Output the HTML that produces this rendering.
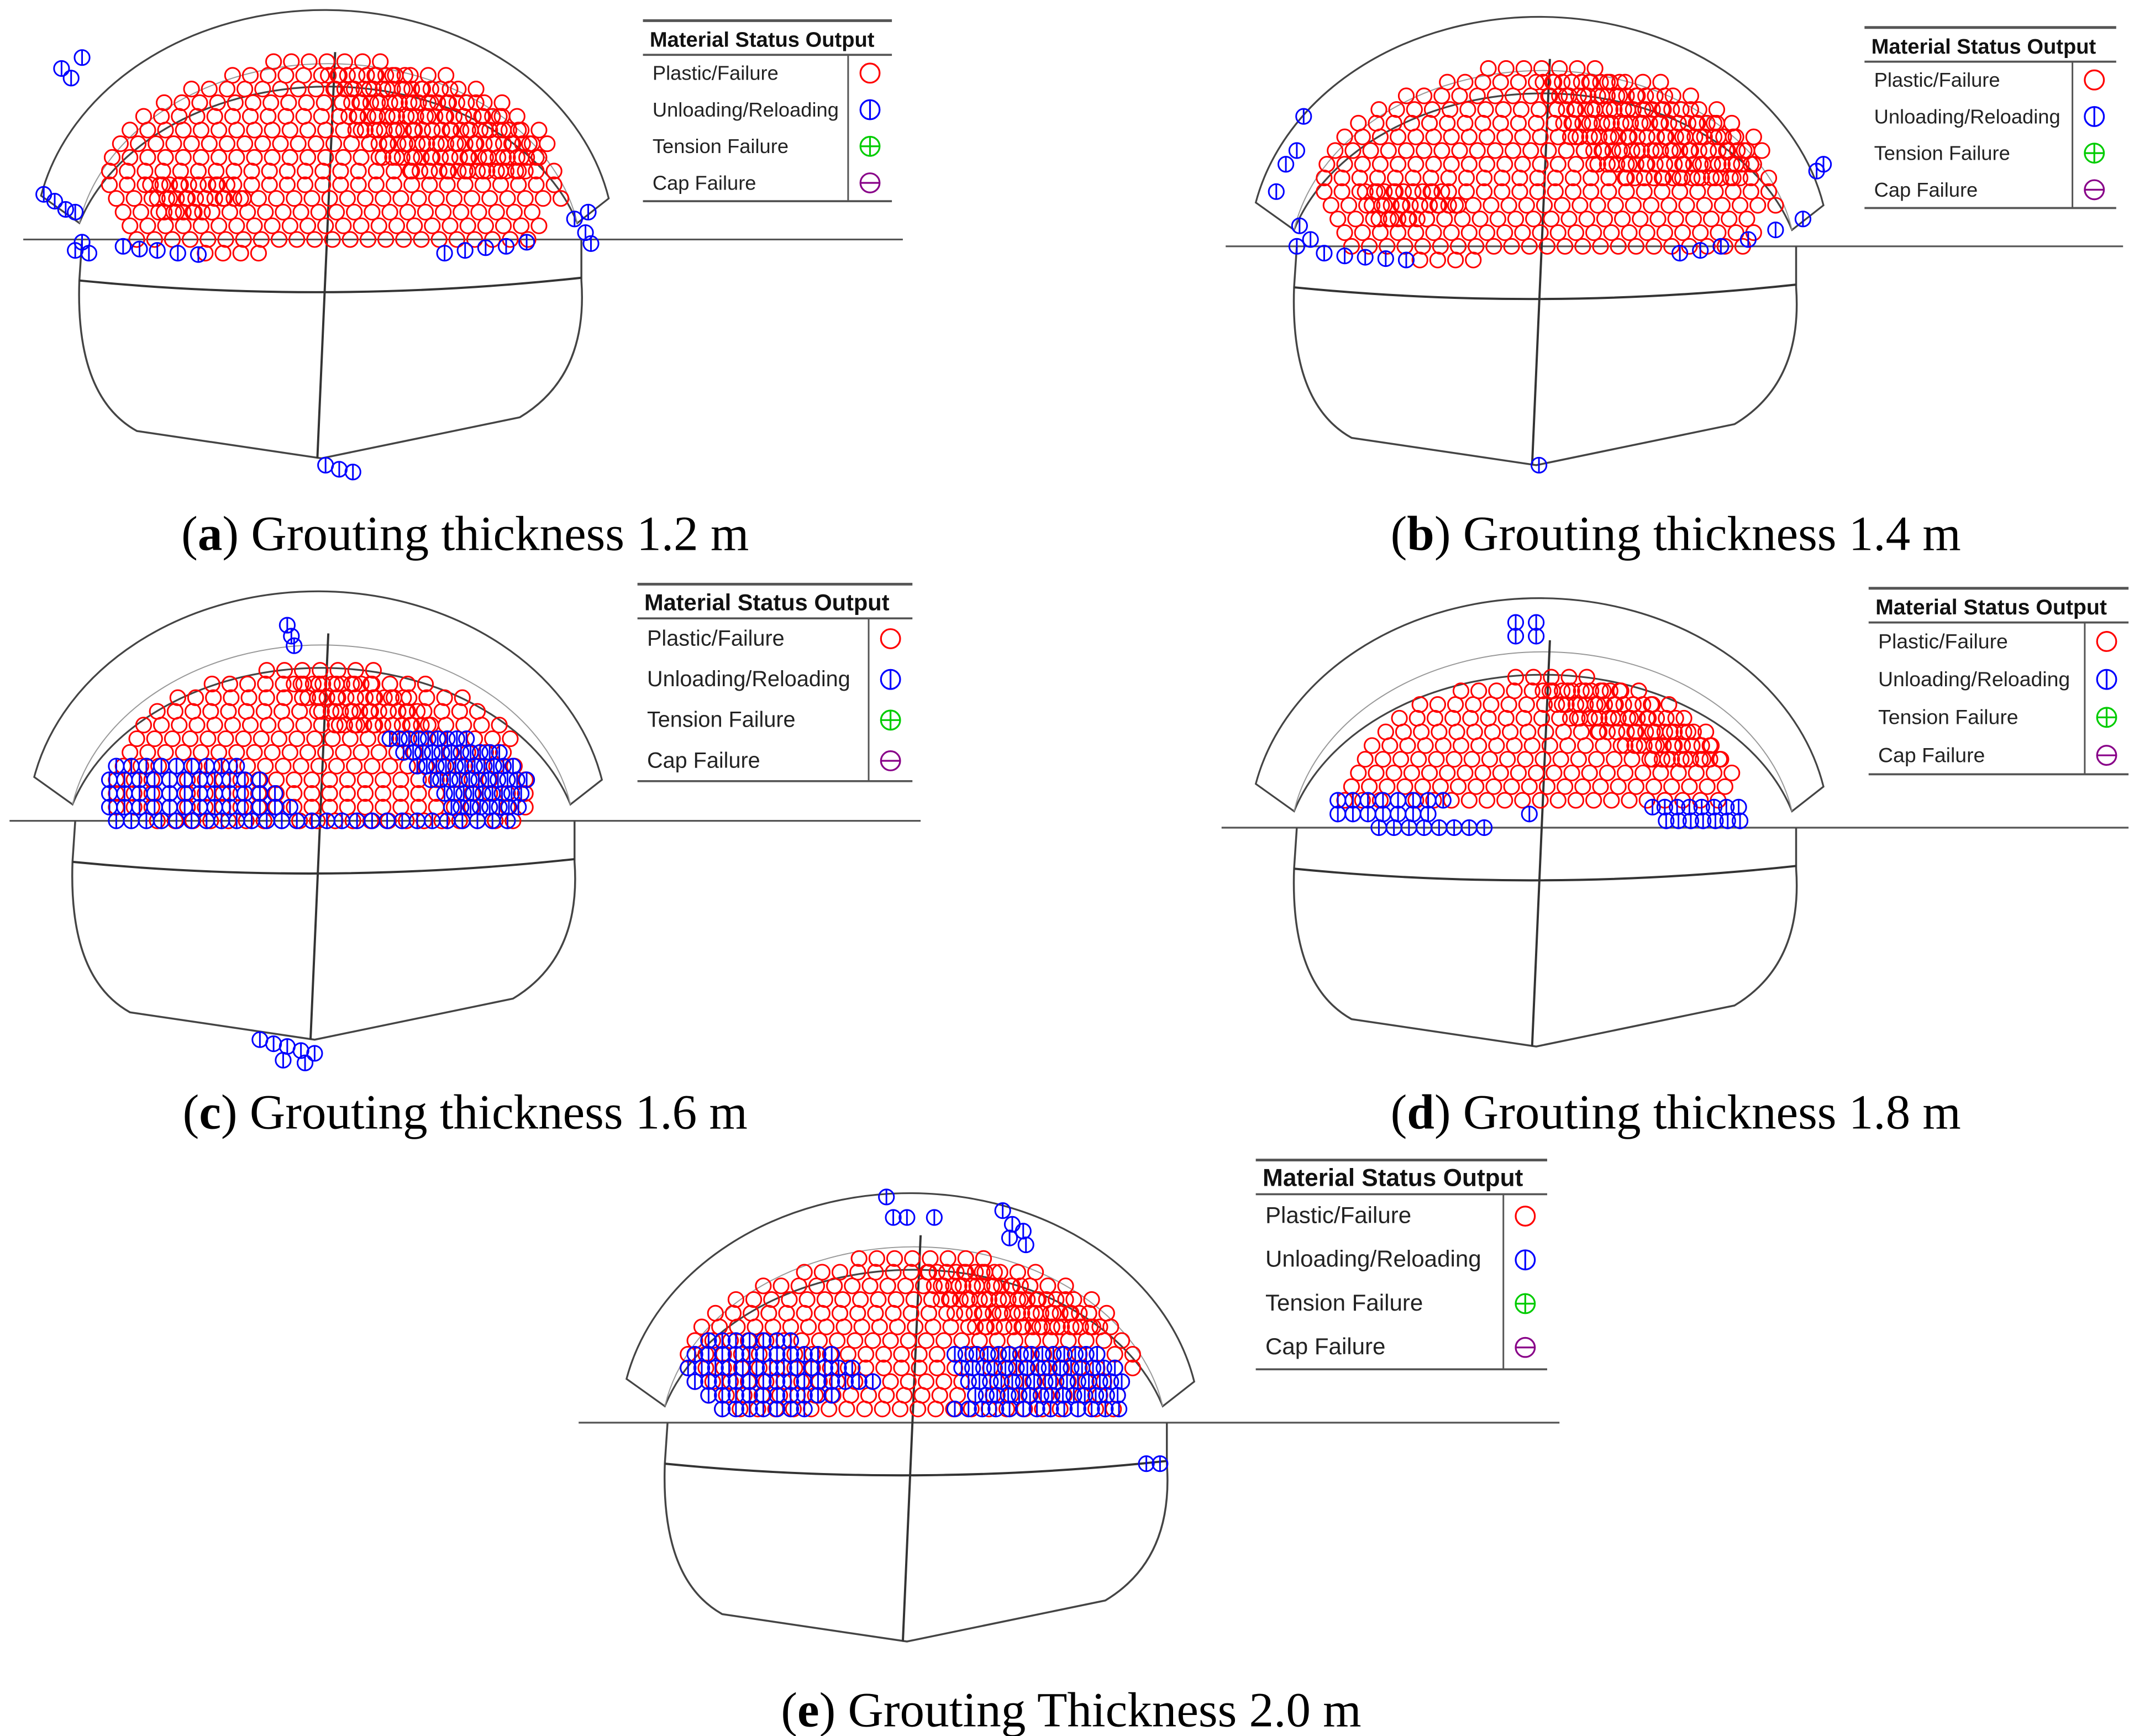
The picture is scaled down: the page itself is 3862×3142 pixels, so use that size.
<!DOCTYPE html>
<html><head><meta charset="utf-8"><style>
html,body{margin:0;padding:0;background:#fff}
svg{display:block}
</style></head><body>
<svg id="fig" width="3862" height="3142" viewBox="0 0 1560 1269" xmlns="http://www.w3.org/2000/svg" font-family="'Liberation Sans', sans-serif">
<rect width="1560" height="1269" fill="#fff"/>
</svg>
<script>
// Panel data (display coordinates)
const panelIds=['a','b','c','d','e'];
const captions=['Grouting thickness 1.2 m','Grouting thickness 1.4 m','Grouting thickness 1.6 m','Grouting thickness 1.8 m','Grouting Thickness 2.0 m'];
const centersX=[240,1128,235,1128,668];
const lineY=[175,180,600,605,1040];
const lineSpan=[[17,660],[896,1552],[7,673],[893,1556],[423,1140]];
const legendBox=[[470,15,182,132],[1363,20,184,132],[466,427,201,144],[1366,430,190,136],[918,848,213,153]];
const captionPos=[[340,402],[1225,402],[340,825],[1225,825],[783,1262]];
// plastic rows: [dy, xStartOffset, xEndOffset, spacing]
const redRowsA=[[-130,-40,50,13],[-120,-70,90,13],[-110,-100,110,13],[-100,-120,130,13],[-90,-135,145,13],[-80,-145,155,13],[-70,-152,160,13],[-60,-158,165,13],[-50,-160,168,13],[-40,-160,170,13],[-30,-155,170,13],[-20,-150,160,13],[-10,-145,155,13],[0,-140,150,13],[10,-90,-40,13]];
const denseRowsA=[[-120,0,60,7],[-110,5,90,7],[-100,10,110,7],[-90,15,130,7],[-80,20,145,7],[-70,30,150,7],[-60,40,155,7],[-50,60,150,7],[-40,-130,-70,7],[-30,-125,-60,7],[-20,-120,-80,7]];
const redRowsC=[[-110,-40,40,13],[-100,-80,80,13],[-90,-105,105,13],[-80,-120,120,13],[-70,-130,130,13],[-60,-135,140,13],[-50,-140,145,13],[-40,-145,150,13],[-30,-150,150,13],[-20,-150,150,13],[-10,-150,150,13],[0,-120,140,13]];
const denseRowsC=[[-100,-20,40,7],[-90,-10,60,7],[-80,0,70,7],[-70,10,80,7]];
const blueRowsC=[[-40,-150,-60,11],[-30,-155,-40,11],[-20,-155,-30,11],[-10,-155,-20,11],[0,-150,140,11],[-60,50,110,7],[-50,60,130,7],[-40,70,140,7],[-30,80,150,7],[-20,90,150,7],[-10,95,150,7]];
const redRowsD=[[-110,-20,40,13],[-100,-60,80,13],[-90,-90,100,13],[-80,-105,115,13],[-70,-115,125,13],[-60,-125,130,13],[-50,-130,135,13],[-40,-135,140,13],[-30,-140,140,13],[-20,-145,140,13]];
const denseRowsD=[[-100,0,60,7],[-90,10,80,7],[-80,20,100,7],[-70,40,115,7],[-60,60,125,7],[-50,80,130,7]];
const blueRowsD=[[-20,-150,-70,11],[-10,-150,-80,11],[0,-120,-40,11],[-15,80,150,9],[-5,90,145,9]];
const redRowsE=[[-120,-40,60,13],[-110,-80,100,13],[-100,-110,120,13],[-90,-130,135,13],[-80,-145,145,13],[-70,-155,150,13],[-60,-160,155,13],[-50,-165,160,13],[-40,-165,160,13],[-30,-160,160,13],[-20,-150,155,13],[-10,-140,150,13]];
const denseRowsE=[[-110,10,60,7],[-100,15,90,7],[-90,20,115,7],[-80,30,130,7],[-70,45,140,7]];
const blueRowsE=[[-60,-150,-90,10],[-50,-160,-60,10],[-40,-165,-40,10],[-30,-160,-30,10],[-20,-150,-60,10],[-10,-140,-80,10],[-50,30,140,8],[-40,35,150,8],[-30,40,155,8],[-20,45,155,8],[-10,30,150,10]];
const redRows=[redRowsA,redRowsA,redRowsC,redRowsD,redRowsE];
const denseRows=[denseRowsA,denseRowsA,denseRowsC,denseRowsD,denseRowsE];
const blueRows=[[],[],blueRowsC,blueRowsD,blueRowsE];
// scattered blue points [dx,dy]
const blueA=[[-195,-125],[-188,-118],[-180,-133],[-208,-33],[-200,-28],[-192,-22],[-185,-20],[-180,2],[-185,8],[-175,10],[-150,5],[-138,7],[-125,8],[-110,10],[-95,11],[85,10],[100,8],[115,6],[130,5],[145,2],[180,-15],[190,-20],[188,-5],[192,3],[-2,165],[8,168],[18,170]];
const blueB=[[-175,-95],[-180,-70],[-188,-60],[-195,-40],[-178,-15],[-170,-5],[-180,0],[-160,5],[-145,7],[-130,8],[-115,9],[-100,10],[100,5],[115,3],[130,0],[150,-5],[170,-12],[190,-20],[200,-55],[205,-60],[-3,160]];
const blueC=[[-25,-143],[-22,-135],[-20,-128],[-45,160],[-35,163],[-25,165],[-15,168],[-5,170],[-28,175],[-12,177]];
const blueD=[[-20,-150],[-5,-150],[-20,-140],[-5,-140],[-10,-10]];
const blueE=[[-20,-165],[-15,-150],[-5,-150],[15,-150],[65,-155],[72,-145],[80,-140],[70,-135],[82,-130],[170,30],[180,30]];
const blueScatter=[blueA,blueB,blueC,blueD,blueE];

const NS='http://www.w3.org/2000/svg';
const svg=document.getElementById('fig');
function mk(tag,attrs,parent){const e=document.createElementNS(NS,tag);for(const k in attrs)e.setAttribute(k,attrs[k]);(parent||svg).appendChild(e);return e;}
function drawRed(g,x,y){const c=mk('circle',{cx:x,cy:y,r:5.5,fill:'none',stroke:'#f00','stroke-width':1.2},g);

}
function drawBlue(g,x,y){const c=mk('circle',{cx:x,cy:y,r:5.5,fill:'none',stroke:'#00f','stroke-width':1.2},g);


mk('line',{x1:x,y1:y-5.5,x2:x,y2:y+5.5,stroke:'#00f','stroke-width':1.2},g);}

panelIds.forEach((id,i)=>{
  const cx=centersX[i], y0=lineY[i];
  const g=mk('g',{});
  
  
  const ln=mk('line',{x1:lineSpan[i][0],y1:y0,x2:lineSpan[i][1],y2:y0,stroke:'#555','stroke-width':1.3},g);
  
  
  const sh=mk('path',{d:`M${cx-210},${y0-32} A212 172 0 0 1 ${cx+205},${y0-30} L${cx+182},${y0-12} A190 140 0 0 0 ${cx-182},${y0-12} Z`,fill:'none',stroke:'#444','stroke-width':1.3},g);
  
  
  const ex=mk('path',{d:`M${cx-182},${y0-12} A185 142 0 0 1 ${cx+182},${y0-12}`,fill:'none',stroke:'#999','stroke-width':0.8},g);
  
  
  const bd=mk('path',{d:`M${cx-180},${y0} L${cx-182},${y0+30} Q${cx-185},${y0+115} ${cx-140},${y0+140} L${cx-5},${y0+160} L${cx+140},${y0+130} Q${cx+190},${y0+100} ${cx+185},${y0+30} L${cx+185},${y0}`,fill:'none',stroke:'#444','stroke-width':1.4},g);
  
  
  mk('path',{d:`M${cx-182},${y0+30} Q${cx},${y0+48} ${cx+185},${y0+28}`,fill:'none',stroke:'#333','stroke-width':1.6},g);
  mk('line',{x1:cx+5,y1:y0-137,x2:cx-8,y2:y0+160,stroke:'#333','stroke-width':1.6},g);
  redRows[i].forEach(r=>{for(let x=r[1];x<=r[2];x+=r[3])drawRed(g,cx+x,y0+r[0]);});
  denseRows[i].forEach(r=>{for(let x=r[1];x<=r[2];x+=r[3])drawRed(g,cx+x,y0+r[0]);});
  blueRows[i].forEach(r=>{for(let x=r[1];x<=r[2];x+=r[3])drawBlue(g,cx+x,y0+r[0]);});
  blueScatter[i].forEach(p=>drawBlue(g,cx+p[0],y0+p[1]));
  // legend
  const [lx,ly,lw,lh]=legendBox[i];
  const lg=mk('g',{},g);
  
  
  mk('line',{x1:lx,y1:ly,x2:lx+lw,y2:ly,stroke:'#555','stroke-width':2},lg);
  mk('line',{x1:lx,y1:ly+25,x2:lx+lw,y2:ly+25,stroke:'#555','stroke-width':1.5},lg);
  mk('line',{x1:lx,y1:ly+lh,x2:lx+lw,y2:ly+lh,stroke:'#555','stroke-width':1.5},lg);
  mk('line',{x1:lx+lw-32,y1:ly+25,x2:lx+lw-32,y2:ly+lh,stroke:'#555','stroke-width':1.2},lg);
  const fs=lh/9;
  const t=mk('text',{x:lx+5,y:ly+19,'font-size':fs*1.05,'font-weight':'bold',fill:'#111'},lg);t.textContent='Material Status Output';
  
  
  const labs=['Plastic/Failure','Unloading/Reloading','Tension Failure','Cap Failure'];
  const cols=['#f00','#00f','#0c0','#808'];
  const step=(lh-25)/4;
  labs.forEach((s,k)=>{
    const yy=ly+25+step*(k+0.5);
    const tx=mk('text',{x:lx+7,y:yy+5,'font-size':fs,fill:'#222'},lg);tx.textContent=s;
    
    
    const ix=lx+lw-16;
    mk('circle',{cx:ix,cy:yy,r:7,fill:'none',stroke:cols[k],'stroke-width':1.3},lg);
    if(k===1)mk('line',{x1:ix,y1:yy-7,x2:ix,y2:yy+7,stroke:cols[k],'stroke-width':1.3},lg);
    if(k===2){mk('line',{x1:ix,y1:yy-7,x2:ix,y2:yy+7,stroke:cols[k],'stroke-width':1.3},lg);mk('line',{x1:ix-7,y1:yy,x2:ix+7,y2:yy,stroke:cols[k],'stroke-width':1.3},lg);}
    if(k===3)mk('line',{x1:ix-7,y1:yy,x2:ix+7,y2:yy,stroke:cols[k],'stroke-width':1.3},lg);
  });
  // caption
  const cp=mk('text',{x:captionPos[i][0],y:captionPos[i][1],'text-anchor':'middle','font-size':36,'font-family':"'Liberation Serif', serif",fill:'#000'});
  
  
  const b=mk('tspan',{},cp);b.textContent='(';
  const bb=mk('tspan',{'font-weight':'bold'},cp);bb.textContent=id;
  const rest=mk('tspan',{},cp);rest.textContent=') '+captions[i];
});
</script>
</body></html>
